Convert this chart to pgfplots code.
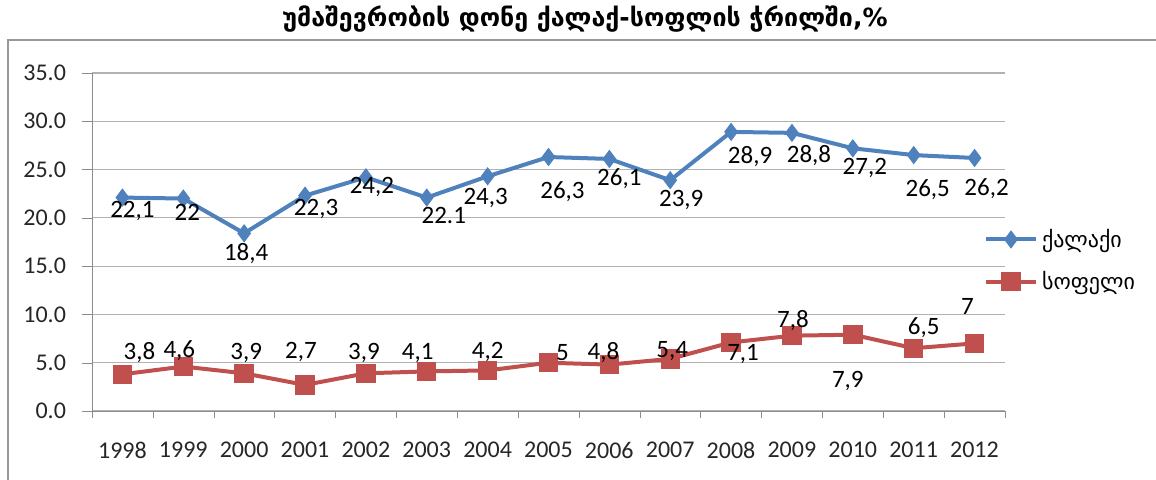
\documentclass[border=0pt]{standalone}
\usepackage{pgfplots}
\pgfplotsset{compat=1.18}
\usepackage{pgfplotstable}
\usepackage{fontspec}
\setmainfont{Carlito}
\newfontfamily\geo{DejaVu Sans}
\definecolor{cblue}{HTML}{4F81BD}
\definecolor{cred}{HTML}{C0504D}
\pgfplotstableread{
x y lbl dx dy
1998 22.1 22,1 5 -6.5
1999 22 22 2 -7
2000 18.4 18,4 1 -10
2001 22.3 22,3 5.5 -6.5
2002 24.2 24,2 3 -5
2003 22.1 22.1 8.5 -9
2004 24.3 24,3 -1 -11
2005 26.3 26,3 7 -17.5
2006 26.1 26,1 5 -10
2007 23.9 23,9 5.5 -10
2008 28.9 28,9 9.5 -12.5
2009 28.8 28,8 8.5 -11.5
2010 27.2 27,2 6 -10
2011 26.5 26,5 7 -17.5
2012 26.2 26,2 6 -15.5
}\city
\pgfplotstableread{
x y lbl dx dy
1998 3.8 3,8 8.5 11
1999 4.6 4,6 -2 8
2000 3.9 3,9 1 10
2001 2.7 2,7 -2 16.5
2002 3.9 3,9 -1 10
2003 4.1 4,1 -4.5 9
2004 4.2 4,2 0 9
2005 5 5 7 5
2006 4.8 4,8 -3 6
2007 5.4 5,4 1 4
2008 7.1 7,1 6 -6
2009 7.8 7,8 0.5 7.5
2010 7.9 7,9 -2.5 -23
2011 6.5 6,5 5 10.5
2012 7 7 -3.5 18.5
}\rural
\begin{document}
\begin{tikzpicture}
\useasboundingbox (0,0) rectangle (578pt,240pt);
\draw[color=black!40, line width=1pt] (4pt,0) -- (4pt,220pt) -- (578pt,220pt);
\node[font=\geo\bfseries\fontsize{12.5}{14}\selectfont] at (292.5pt,230.5pt) {უმაშევრობის დონე ქალაქ-სოფლის ჭრილში,\%};
\begin{axis}[
  at={(46pt,34.5pt)}, anchor=south west,
  scale only axis, width=456.5pt, height=169pt,
  xmin=1997.5, xmax=2012.5, ymin=0, ymax=35,
  xtick={1998,1999,...,2012}, ytick={0,5,...,35},
  minor xtick={1997.5,1998.5,...,2012.5},
  axis lines*=left, axis line style={-, draw=black!45},
  ymajorgrids, grid style={black!30, line width=0.6pt},
  tick align=outside, major tick length=5pt, minor tick length=3.5pt,
  ytick style={draw=black!45},
  xtick style={draw=none},
  minor x tick style={draw=black!45},
  /pgf/number format/assume math mode=true,
  xticklabel={\pgfmathprintnumber[1000 sep={}]{\tick}},
  yticklabel={\pgfmathprintnumber[fixed,fixed zerofill,precision=1]{\tick}},
  tick label style={font=\fontsize{12}{14}\selectfont, text=black!85},
  xticklabel style={yshift=-7pt},
  yticklabel style={xshift=-4.5pt},
  clip=false,
  legend style={at={(0.97,0.445)}, anchor=west, draw=none, fill=none,
    font=\geo\fontsize{11}{13}\selectfont, row sep=6.5pt},
  legend cell align=left,
  legend image code/.code={\draw[mark repeat=2,mark phase=2,#1] plot coordinates {(0pt,0pt)(12.5pt,0pt)(25pt,0pt)};},
  point meta=explicit symbolic,
  nodes near coords,
  nodes near coords style={font=\fontsize{12.5}{14}\selectfont, text=black, anchor=center, inner sep=0pt, xshift=\dx pt, yshift=\dy pt},
]
\addplot[color=cblue, line width=2pt, mark=diamond*, mark size=4.2pt, mark options={fill=cblue, draw=cblue, line width=0.5pt},
  visualization depends on={\thisrow{dx} \as \dx},
  visualization depends on={\thisrow{dy} \as \dy}]
  table[x=x, y=y, meta=lbl] {\city};
\addlegendentry{ქალაქი}
\addplot[color=cred, line width=2pt, mark=square*, mark size=4.6pt, mark options={fill=cred, draw=cred, line width=0.5pt},
  visualization depends on={\thisrow{dx} \as \dx},
  visualization depends on={\thisrow{dy} \as \dy}]
  table[x=x, y=y, meta=lbl] {\rural};
\addlegendentry{სოფელი}
\end{axis}
\end{tikzpicture}
\end{document}
